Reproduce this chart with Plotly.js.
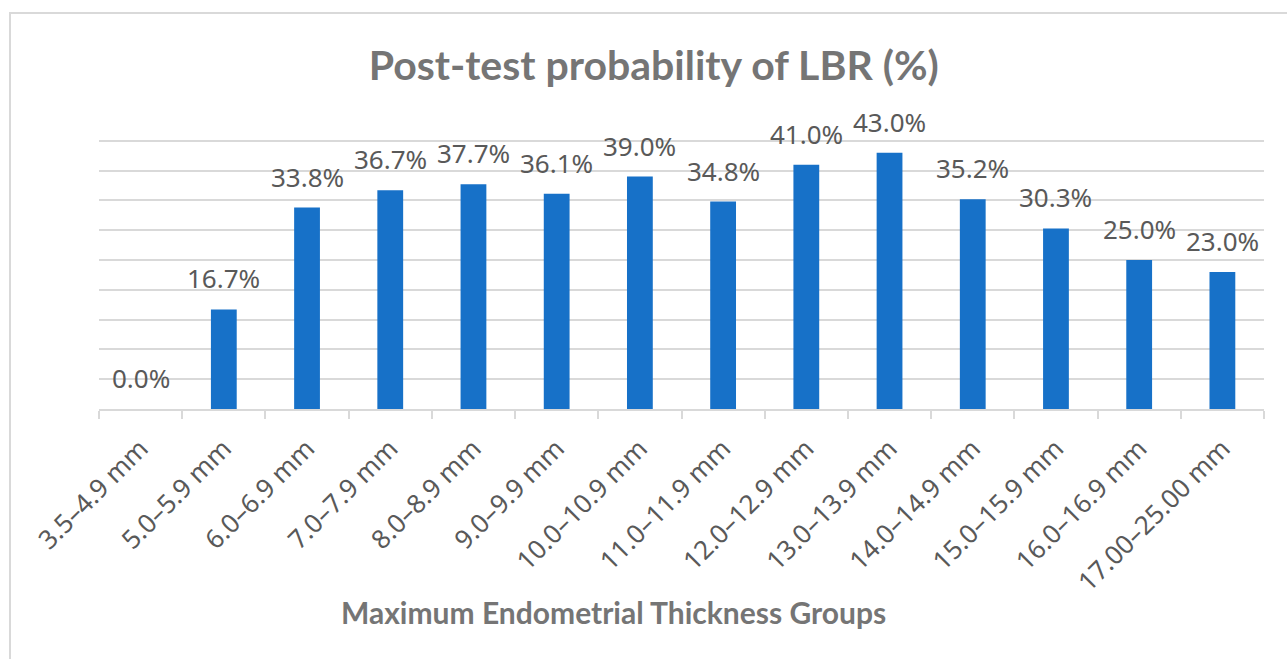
<!DOCTYPE html>
<html>
<head>
<meta charset="utf-8">
<script src="https://cdn.plot.ly/plotly-3.0.1.min.js"></script>
<style>
  html, body { margin:0; padding:0; background:#fff; }
  #frame { position:absolute; left:9px; top:12px; width:1278px; height:647px;
           border-top:2px solid #d9d9d9; border-left:2px solid #d9d9d9; box-sizing:border-box; }
  #chart { position:absolute; left:0; top:0; width:1287px; height:659px; }
</style>
</head>
<body>
<div id="frame"></div>
<div id="chart"></div>
<script>
const categories = ["3.5–4.9 mm","5.0–5.9 mm","6.0–6.9 mm","7.0–7.9 mm","8.0–8.9 mm","9.0–9.9 mm",
  "10.0–10.9 mm","11.0–11.9 mm","12.0–12.9 mm","13.0–13.9 mm","14.0–14.9 mm","15.0–15.9 mm",
  "16.0–16.9 mm","17.00–25.00 mm"];
const probability = [0.0,16.7,33.8,36.7,37.7,36.1,39.0,34.8,41.0,43.0,35.2,30.3,25.0,23.0];

const labelFont = {family:"Noto Sans", size:26, color:"#595959"};

const annotations = categories.map((c,i)=>({
  x:c, y:probability[i], xref:"x", yref:"y", text:probability[i].toFixed(1)+"%",
  showarrow:false, yanchor:"bottom", xanchor:"center", yshift:11, font:labelFont
}));
annotations.push({
  xref:"paper", yref:"paper", x:0.442, y:-0.681, xanchor:"center", yanchor:"middle",
  text:"<b>Maximum Endometrial Thickness Groups</b>", showarrow:false,
  font:{family:"Lato", size:30, color:"#757575"}
});

const trace = {
  type:"bar", x:categories, y:probability,
  marker:{color:"#1771C8"}, hoverinfo:"skip"
};

const layout = {
  width:1287, height:659,
  margin:{l:99, r:23, t:111, b:250},
  paper_bgcolor:"rgba(0,0,0,0)", plot_bgcolor:"rgba(0,0,0,0)",
  bargap:0.69,
  showlegend:false,
  title:{text:"<b>Post-test probability of LBR (%)</b>", x:0.508, xanchor:"center",
         y:0.9, yanchor:"middle", yref:"container",
         font:{family:"Lato", size:41, color:"#757575"}},
  xaxis:{type:"category", tickangle:-45, ticks:"outside", tickson:"boundaries",
         ticklen:8, tickwidth:2, tickcolor:"#d9d9d9", showline:true, linecolor:"#d9d9d9",
         linewidth:2, showgrid:false, ticklabelstandoff:12,
         tickfont:{family:"Noto Sans", size:26, color:"#595959"}},
  yaxis:{range:[0,50], dtick:5, showticklabels:false, showgrid:true, gridcolor:"#d9d9d9",
         gridwidth:2, zeroline:false, ticks:""},
  annotations:annotations
};

Plotly.newPlot("chart",[trace],layout,{staticPlot:true, displayModeBar:false});
</script>
</body>
</html>
